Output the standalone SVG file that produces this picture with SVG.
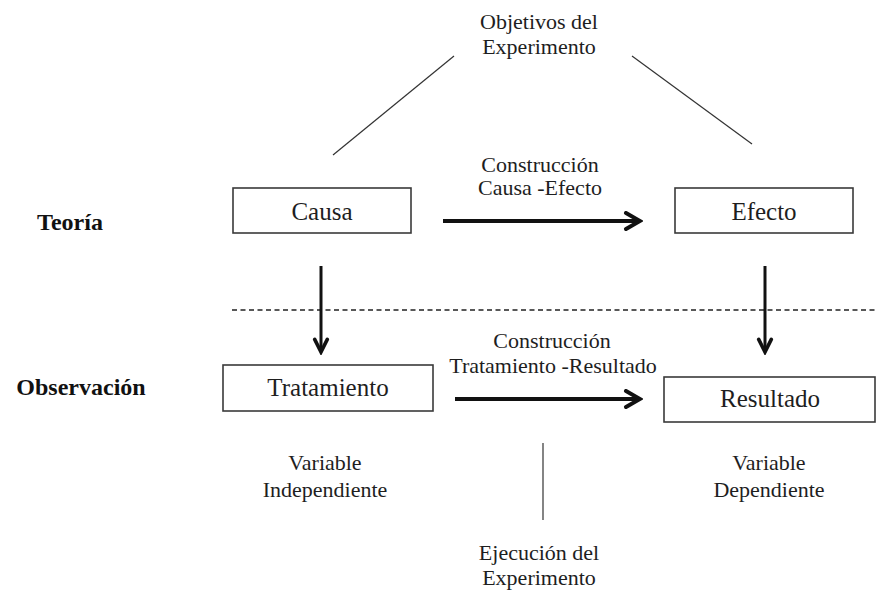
<svg xmlns="http://www.w3.org/2000/svg" width="877" height="590" viewBox="0 0 877 590">
<style>
.t{font-family:"Liberation Serif","Times New Roman",serif;fill:#1e1e1e;text-anchor:middle}
.s{font-size:22px}
.n{font-size:25px}
.b{font-family:"Liberation Serif","Times New Roman",serif;font-weight:bold;font-size:24px;fill:#111}
.box{fill:#fff;stroke:#3a3a3a;stroke-width:1.6}
.thin{stroke:#333;stroke-width:1.2;fill:none}
.arr{stroke:#111;fill:none}
</style>
<defs>
<marker id="ah" markerUnits="userSpaceOnUse" viewBox="0 0 20 20" markerWidth="20" markerHeight="20" refX="17" refY="10" orient="auto">
<path d="M3,2 L17,10 L3,18" fill="none" stroke="#111" stroke-width="4" stroke-linejoin="miter" stroke-linecap="round"/>
</marker>
<marker id="ahs" markerUnits="userSpaceOnUse" viewBox="0 0 20 20" markerWidth="18" markerHeight="18" refX="17" refY="10" orient="auto">
<path d="M3,3 L17,10 L3,17" fill="none" stroke="#111" stroke-width="4" stroke-linejoin="miter" stroke-linecap="round"/>
</marker>
</defs>
<rect width="877" height="590" fill="#fff"/>
<g id="labels">
<text class="b" x="70" y="230" text-anchor="middle">Teoría</text>
<text class="b" x="81" y="395" text-anchor="middle">Observación</text>
</g>
<g id="objetivos">
<text class="t s" x="539" y="29">Objetivos del</text>
<text class="t s" x="539" y="54">Experimento</text>
</g>
<g id="causa">
<rect class="box" x="233" y="188" width="178" height="45"/>
<text class="t n" x="322" y="220">Causa</text>
</g>
<g id="efecto">
<rect class="box" x="675" y="188" width="178" height="45"/>
<text class="t n" x="764" y="220">Efecto</text>
</g>
<g id="tratamiento">
<rect class="box" x="223" y="365" width="210" height="46"/>
<text class="t n" x="328" y="396">Tratamiento</text>
</g>
<g id="resultado">
<rect class="box" x="664" y="377" width="211" height="45"/>
<text class="t n" x="770" y="407">Resultado</text>
</g>
<g id="edge-labels">
<text class="t s" x="540" y="172">Construcción</text>
<text class="t s" x="540" y="195">Causa -Efecto</text>
<text class="t s" x="552" y="348">Construcción</text>
<text class="t s" x="553" y="373">Tratamiento -Resultado</text>
<text class="t s" x="325" y="470">Variable</text>
<text class="t s" x="325" y="497">Independiente</text>
<text class="t s" x="769" y="470">Variable</text>
<text class="t s" x="769" y="497">Dependiente</text>
<text class="t s" x="539" y="560">Ejecución del</text>
<text class="t s" x="539" y="585">Experimento</text>
</g>
<g id="connectors">
<line class="thin" x1="333" y1="155" x2="454" y2="56"/>
<line class="thin" x1="632" y1="56" x2="752" y2="144"/>
<line class="thin" x1="543" y1="443" x2="543" y2="520"/>
<line x1="232" y1="310" x2="877" y2="310" stroke="#222" stroke-width="1.3" stroke-dasharray="5,3.5"/>
<line class="arr" x1="443" y1="221" x2="640" y2="221" stroke-width="4" marker-end="url(#ah)"/>
<line class="arr" x1="455" y1="399" x2="640" y2="399" stroke-width="4" marker-end="url(#ah)"/>
<line class="arr" x1="321" y1="266" x2="321" y2="352" stroke-width="3" marker-end="url(#ahs)"/>
<line class="arr" x1="765" y1="266" x2="765" y2="352" stroke-width="3" marker-end="url(#ahs)"/>
</g>
</svg>
